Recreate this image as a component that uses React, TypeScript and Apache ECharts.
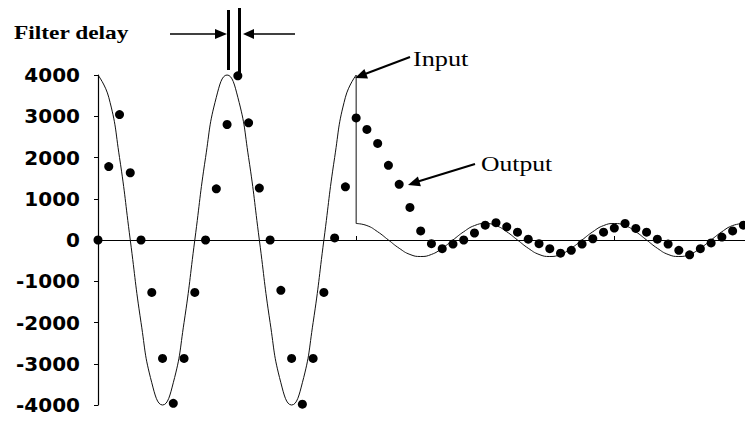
import React, { useEffect, useRef } from "react";
import * as echarts from "echarts";

// Sample index of the first input value of each part
const inputAStart = 0;
const inputBStart = 24;

// Input signal, large cosine (samples 0..24)
const inputA = [
  4000, 3460, 2000, 0, -2000, -3460, -4000, -3460, -2000, 0, 2000, 3460, 4000,
  3460, 2000, 0, -2000, -3460, -4000, -3460, -2000, 0, 2000, 3460, 4000,
];

// Input signal after the step down (samples 24..60)
const inputB = [
  400, 350, 200, 0, -200, -350, -400, -350, -200, 0, 200, 350, 400, 350, 200, 0,
  -200, -350, -400, -350, -200, 0, 200, 350, 400, 350, 200, 0, -200, -350, -400,
  -350, -200, 0, 200, 350, 400,
];

// Filter output (samples 0..60)
const output = [
  0, 1780, 3040, 1630, 0, -1270, -2870, -3960, -2870, -1270, 0, 1240, 2800, 3980,
  2840, 1260, 0, -1220, -2870, -3980, -2870, -1270, 50, 1290, 2960, 2680, 2340,
  1810, 1350, 790, 220, -90, -210, -100, 0, 170, 360, 420, 320, 190, 20, -90,
  -210, -320, -250, -100, 30, 190, 290, 400, 280, 190, 20, -100, -250, -360,
  -210, -70, 70, 220, 360,
];

const yTicks = { min: -4000, max: 4000, interval: 1000 };
const xTicks = { min: 0, max: 60.15, interval: 24 };

const annotationFilter = "Filter delay";
const annotationInput = "Input";
const annotationOutput = "Output";

export default function App() {
  const ref = useRef<HTMLDivElement>(null);

  useEffect(() => {
    if (!ref.current) return;
    const chart = echarts.init(ref.current, undefined, { renderer: "svg" });
    const black = "#000";
    const serif = "'Liberation Serif', 'DejaVu Serif', serif";

    chart.setOption({
      animation: false,
      backgroundColor: "#fff",
      grid: { left: 98, right: 0, top: 75, bottom: 18, containLabel: false },
      xAxis: {
        type: "value",
        min: xTicks.min,
        max: xTicks.max,
        interval: xTicks.interval,
        axisLine: { onZero: true, lineStyle: { color: black, width: 1.2 } },
        axisTick: { show: true, inside: true, length: 4, lineStyle: { color: black } },
        axisLabel: { show: false },
        splitLine: { show: false },
      },
      yAxis: {
        type: "value",
        min: yTicks.min,
        max: yTicks.max,
        interval: yTicks.interval,
        axisLine: { show: true, onZero: false, lineStyle: { color: black, width: 1.2 } },
        axisTick: { show: true, inside: false, length: 4, lineStyle: { color: black } },
        axisLabel: {
          color: black,
          fontFamily: "'DejaVu Sans', sans-serif",
          fontWeight: "bold",
          fontSize: 20,
          margin: 18,
          formatter: (v: number) => String(v),
        },
        splitLine: { show: false },
      },
      series: [
        {
          name: "Input",
          type: "line",
          data: inputA.map((v, i) => [i + inputAStart, v]),
          smooth: 0.5,
          showSymbol: false,
          symbol: "none",
          lineStyle: { color: "#111", width: 1 },
          clip: false,
          z: 2,
        },
        {
          name: "Input step",
          type: "line",
          data: [
            [inputBStart, inputA[inputA.length - 1]],
            [inputBStart, inputB[0]],
          ],
          showSymbol: false,
          symbol: "none",
          lineStyle: { color: "#111", width: 1 },
          z: 2,
        },
        {
          name: "Input tail",
          type: "line",
          data: inputB.map((v, i) => [i + inputBStart, v]),
          smooth: 0.5,
          showSymbol: false,
          symbol: "none",
          lineStyle: { color: "#111", width: 1 },
          clip: false,
          z: 2,
        },
        {
          name: "Output",
          type: "scatter",
          data: output.map((v, i) => [i, v]),
          symbol: "circle",
          symbolSize: 9,
          itemStyle: { color: black, opacity: 1 },
          clip: false,
          z: 3,
        },
      ],
      graphic: [
        {
          type: "text",
          x: 14,
          y: 33,
          scaleX: 1.3,
          style: {
            text: annotationFilter,
            fontFamily: serif,
            fontWeight: "bold",
            fontSize: 18,
            fill: black,
            textAlign: "left",
            textVerticalAlign: "middle",
          },
        },
        { type: "line", shape: { x1: 170, y1: 34, x2: 217, y2: 34 }, style: { stroke: black, lineWidth: 1.5 } },
        { type: "polygon", shape: { points: [[215, 29], [227, 34], [215, 39]] }, style: { fill: black } },
        { type: "line", shape: { x1: 228.5, y1: 10, x2: 228.5, y2: 70 }, style: { stroke: black, lineWidth: 3 } },
        { type: "line", shape: { x1: 239.5, y1: 8, x2: 239.5, y2: 73 }, style: { stroke: black, lineWidth: 3 } },
        { type: "line", shape: { x1: 252, y1: 34, x2: 295, y2: 34 }, style: { stroke: black, lineWidth: 1.5 } },
        { type: "polygon", shape: { points: [[254, 29], [243, 34], [254, 39]] }, style: { fill: black } },

        {
          type: "text",
          x: 413,
          y: 59,
          scaleX: 1.25,
          style: {
            text: annotationInput,
            fontFamily: serif,
            fontSize: 21,
            fill: black,
            textAlign: "left",
            textVerticalAlign: "middle",
          },
        },
        { type: "line", shape: { x1: 410, y1: 57, x2: 365, y2: 74 }, style: { stroke: black, lineWidth: 2 } },
        { type: "polygon", shape: { points: [[355, 78], [364.4, 69], [368, 78.4]] }, style: { fill: black } },

        {
          type: "text",
          x: 481,
          y: 164,
          scaleX: 1.22,
          style: {
            text: annotationOutput,
            fontFamily: serif,
            fontSize: 21,
            fill: black,
            textAlign: "left",
            textVerticalAlign: "middle",
          },
        },
        { type: "line", shape: { x1: 475, y1: 164, x2: 418, y2: 181.5 }, style: { stroke: black, lineWidth: 2 } },
        { type: "polygon", shape: { points: [[408, 185], [417.9, 176.6], [420.9, 186.2]] }, style: { fill: black } },
      ],
    });

    return () => chart.dispose();
  }, []);

  return (
    <div style={{ position: "fixed", left: 0, top: 0, width: 745, height: 423, background: "#fff" }}>
      <div ref={ref} style={{ width: 745, height: 423 }} />
    </div>
  );
}
